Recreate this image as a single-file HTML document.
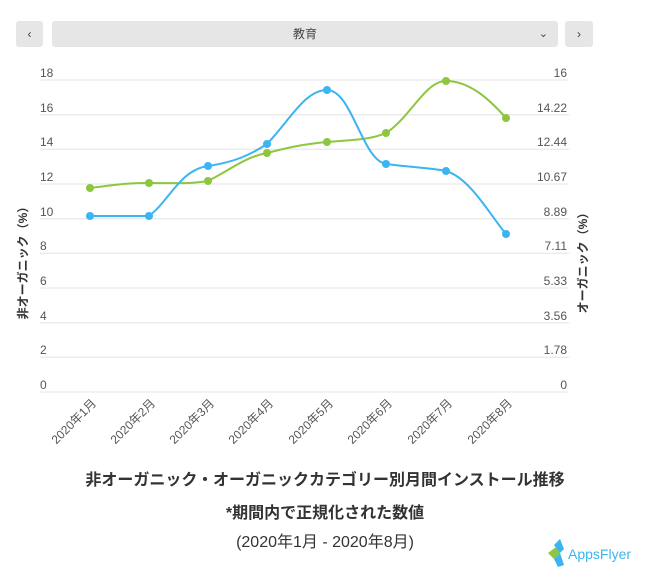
<!DOCTYPE html>
<html><head><meta charset="utf-8"><style>
body{margin:0;width:650px;height:579px;background:#fff;font-family:"Liberation Sans","Noto Sans CJK JP",sans-serif;position:relative;overflow:hidden}
.b{position:absolute;top:21px;height:26px;background:#e6e6e6;border-radius:3px;color:#444;font-size:12px;text-align:center;line-height:26px}
.t{position:absolute;left:0;width:650px;text-align:center;color:#333}
</style></head><body>
<div class="b" style="left:16px;width:27px">‹</div>
<div class="b" style="left:52px;width:506px">教育<span style="position:absolute;right:10px;font-size:11px">⌄</span></div>
<div class="b" style="left:565px;width:28px">›</div>
<svg width="650" height="579" style="position:absolute;left:0;top:0" font-family="Liberation Sans, Noto Sans CJK JP, sans-serif">
<g stroke="#e4e4e4" stroke-width="1">
<line x1="40" x2="569" y1="80" y2="80"/><line x1="40" x2="569" y1="114.7" y2="114.7"/><line x1="40" x2="569" y1="149.3" y2="149.3"/><line x1="40" x2="569" y1="184" y2="184"/><line x1="40" x2="569" y1="218.7" y2="218.7"/><line x1="40" x2="569" y1="253.3" y2="253.3"/><line x1="40" x2="569" y1="288" y2="288"/><line x1="40" x2="569" y1="322.7" y2="322.7"/><line x1="40" x2="569" y1="357.3" y2="357.3"/><line x1="40" x2="569" y1="392" y2="392"/>
</g>
<g font-size="12" fill="#555">
<text x="40" y="77">18</text><text x="40" y="112">16</text><text x="40" y="146">14</text><text x="40" y="181">12</text><text x="40" y="216">10</text><text x="40" y="250">8</text><text x="40" y="285">6</text><text x="40" y="320">4</text><text x="40" y="354">2</text><text x="40" y="389">0</text>
</g>
<g font-size="12" fill="#555" text-anchor="end">
<text x="567" y="77">16</text><text x="567" y="112">14.22</text><text x="567" y="146">12.44</text><text x="567" y="181">10.67</text><text x="567" y="216">8.89</text><text x="567" y="250">7.11</text><text x="567" y="285">5.33</text><text x="567" y="320">3.56</text><text x="567" y="354">1.78</text><text x="567" y="389">0</text>
</g>
<text transform="translate(27,260) rotate(-90)" font-size="12" font-weight="bold" fill="#333" text-anchor="middle">非オーガニック（%）</text>
<text transform="translate(587,260) rotate(-90)" font-size="12" font-weight="bold" fill="#333" text-anchor="middle">オーガニック（%）</text>
<g font-size="12" fill="#555" text-anchor="end">
<text transform="translate(97,404) rotate(-45)">2020年1月</text>
<text transform="translate(156,404) rotate(-45)">2020年2月</text>
<text transform="translate(215,404) rotate(-45)">2020年3月</text>
<text transform="translate(274,404) rotate(-45)">2020年4月</text>
<text transform="translate(334,404) rotate(-45)">2020年5月</text>
<text transform="translate(393,404) rotate(-45)">2020年6月</text>
<text transform="translate(453,404) rotate(-45)">2020年7月</text>
<text transform="translate(513,404) rotate(-45)">2020年8月</text>
</g>
<path d="M90,188 C115,185 125,183 149,183 C175,183 190,184 208,181 C230,170 245,157 267,153 C290,147 305,144 327,142 C350,140 370,140 386,133 C410,118 425,81 446,81 C470,81 490,100 506,118" fill="none" stroke="#8dc63f" stroke-width="2"/>
<path d="M90,216 L149,216 C170,200 180,170 208,166 C235,162 250,155 267,144 C290,120 305,90 327,90 C352,90 362,160 386,164 C410,167 430,168 446,171 C470,178 490,215 506,234" fill="none" stroke="#3ab4f2" stroke-width="2"/>
<g fill="#8dc63f"><circle cx="90" cy="188" r="4"/><circle cx="149" cy="183" r="4"/><circle cx="208" cy="181" r="4"/><circle cx="267" cy="153" r="4"/><circle cx="327" cy="142" r="4"/><circle cx="386" cy="133" r="4"/><circle cx="446" cy="81" r="4"/><circle cx="506" cy="118" r="4"/></g>
<g fill="#3ab4f2"><circle cx="90" cy="216" r="4"/><circle cx="149" cy="216" r="4"/><circle cx="208" cy="166" r="4"/><circle cx="267" cy="144" r="4"/><circle cx="327" cy="90" r="4"/><circle cx="386" cy="164" r="4"/><circle cx="446" cy="171" r="4"/><circle cx="506" cy="234" r="4"/></g>
<g transform="translate(548,545)"><path d="M0,8 L8,2 L12,8 L6,14Z" fill="#8dc63f"/><path d="M6,0 L12,-6 L16,4 L12,8Z" fill="#3ab4f2"/><path d="M6,14 L12,8 L16,20 L10,22Z" fill="#3ab4f2"/><text x="20" y="14" font-size="14" fill="#3ab4f2">AppsFlyer</text></g>
</svg>
<div class="t" style="top:466px;font-size:16px;font-weight:bold">非オーガニック・オーガニックカテゴリー別月間インストール推移</div>
<div class="t" style="top:499px;font-size:16px;font-weight:bold">*期間内で正規化された数値</div>
<div class="t" style="top:528px;font-size:16px">(2020年1月 - 2020年8月)</div>
</body></html>
